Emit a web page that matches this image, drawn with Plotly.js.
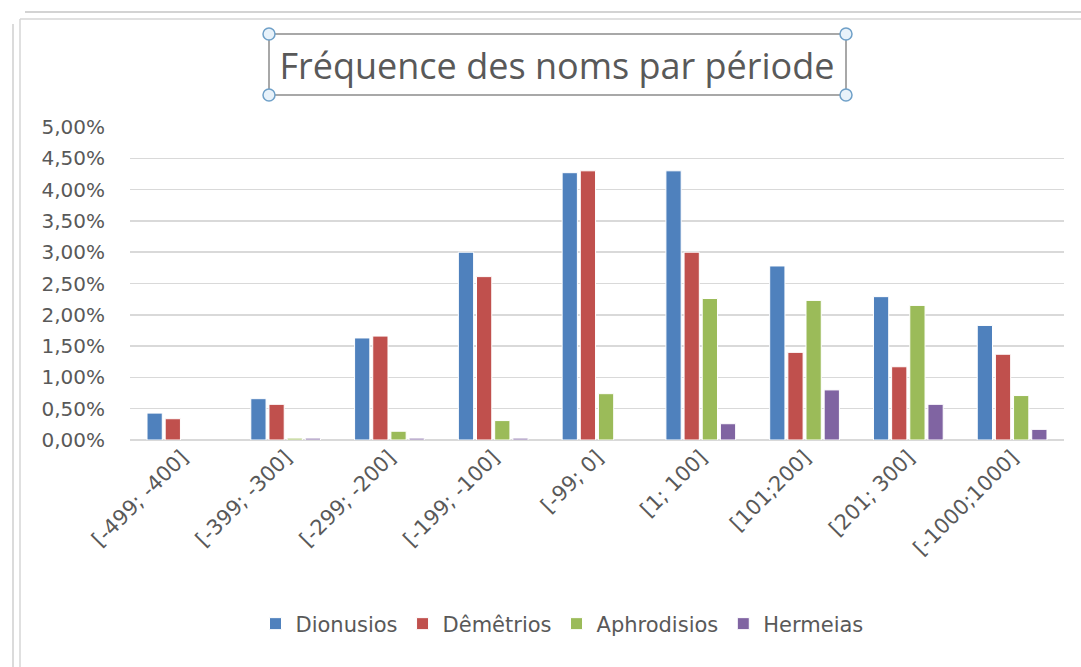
<!DOCTYPE html>
<html>
<head>
<meta charset="utf-8">
<script src="https://cdn.plot.ly/plotly-3.0.1.min.js"></script>
<style>html,body{margin:0;padding:0;background:#fff;}#chart{width:1081px;height:667px;}</style>
</head>
<body>
<div id="chart"></div>
<script>
// ---- data ----
const categories = ["[-499; -400]", "[-399; -300]", "[-299; -200]", "[-199; -100]", "[-99; 0]", "[1; 100]", "[101;200]", "[201; 300]", "[-1000;1000]"];
const dionusios  = [0.0043, 0.0066, 0.0163, 0.0300, 0.0427, 0.0430, 0.0278, 0.0229, 0.0183];
const demetrios  = [0.0034, 0.0057, 0.0166, 0.0261, 0.0430, 0.0300, 0.0140, 0.0117, 0.0137];
const aphrodisio = [null,   0.0003, 0.0014, 0.0031, 0.0074, 0.0226, 0.0223, 0.0215, 0.0071];
const hermeias   = [null,   0.0003, 0.0003, 0.0003, null,   0.0026, 0.0080, 0.0057, 0.0017];
const seriesNames = ["Dionusios", "Dêmêtrios", "Aphrodisios", "Hermeias"];
const seriesColors = ["#4F81BD", "#C0504D", "#9BBB59", "#8064A2"];
const yTicks = [0, 0.005, 0.01, 0.015, 0.02, 0.025, 0.03, 0.035, 0.04, 0.045, 0.05];

// ---- layout helpers (plot area in pixels) ----
const W = 1081, H = 667;
const L = 130, R = 1064, T = 127, B = 440;
const px = x => (x - L) / (R - L);
const py = y => (B - y) / (B - T);

const FONT = "DejaVu Sans, Noto Sans, sans-serif";
const TFONT = "Open Sans, Noto Sans, sans-serif";
const TXT = "#595959";

const allValues = [dionusios, demetrios, aphrodisio, hermeias];
const traces = allValues.map((vals, i) => ({
  type: "bar",
  name: seriesNames[i],
  x: categories,
  y: vals,
  marker: { color: seriesColors[i], line: { color: "#ffffff", width: 1 } },
  hoverinfo: "x+y+name"
}));

const handle = (x, y) => ({
  type: "circle", xref: "paper", yref: "paper",
  xsizemode: "pixel", ysizemode: "pixel",
  xanchor: px(x), yanchor: py(y),
  x0: -6, x1: 6, y0: -6, y1: 6,
  line: { color: "#6fa0c8", width: 1.5 }, fillcolor: "#e8f2fa"
});

const shapes = [
  { type: "line", xref: "paper", yref: "paper", x0: px(25), x1: px(1081), y0: py(12), y1: py(12), line: { color: "#c4c4c4", width: 1.5 } },
  { type: "line", xref: "paper", yref: "paper", x0: px(13), x1: px(13), y0: py(24), y1: py(667), line: { color: "#cfcfcf", width: 1.5 } },
  { type: "line", xref: "paper", yref: "paper", x0: px(20), x1: px(1081), y0: py(19), y1: py(19), line: { color: "#d6d6d6", width: 1.5 } },
  { type: "line", xref: "paper", yref: "paper", x0: px(20), x1: px(20), y0: py(19), y1: py(667), line: { color: "#d6d6d6", width: 1.5 } },
  { type: "rect", xref: "paper", yref: "paper", x0: px(269), x1: px(846), y0: py(95), y1: py(34), line: { color: "#8c8c8c", width: 1.5 } },
  handle(269, 34), handle(846, 34), handle(269, 95), handle(846, 95)
];

const layout = {
  width: W, height: H,
  paper_bgcolor: "#ffffff", plot_bgcolor: "#ffffff",
  margin: { l: L, r: W - R, t: T, b: H - B, pad: 0 },
  separators: ", ",
  font: { family: FONT, color: TXT, size: 20 },
  title: {
    text: "Fréquence des noms par période",
    font: { family: TFONT, size: 36, color: TXT },
    xref: "paper", x: px(557), xanchor: "center",
    yref: "container", y: 1 - 66 / H, yanchor: "middle"
  },
  barmode: "group",
  bargap: 0.3,
  bargroupgap: 0.16,
  xaxis: {
    type: "category",
    tickangle: -45,
    tickfont: { family: FONT, size: 21, color: TXT },
    showgrid: false,
    showline: false,
    ticks: "",
    zeroline: false,
    automargin: false
  },
  yaxis: {
    range: [0, 0.05],
    tickvals: yTicks,
    tickformat: ".2%",
    tickfont: { family: FONT, size: 20, color: TXT },
    showgrid: true,
    gridcolor: "#d9d9d9",
    gridwidth: 1.5,
    zeroline: true,
    zerolinecolor: "#d9d9d9",
    zerolinewidth: 1.5,
    ticks: "",
    ticklabelstandoff: 24,
    automargin: false,
    fixedrange: true
  },
  showlegend: true,
  legend: {
    orientation: "h",
    x: px(562), xanchor: "center",
    y: py(624), yanchor: "middle",
    font: { family: FONT, size: 21, color: TXT },
    itemwidth: 30,
    traceorder: "normal"
  },
  shapes: shapes
};

Plotly.newPlot("chart", traces, layout, { displayModeBar: false, staticPlot: true });
</script>
</body>
</html>
